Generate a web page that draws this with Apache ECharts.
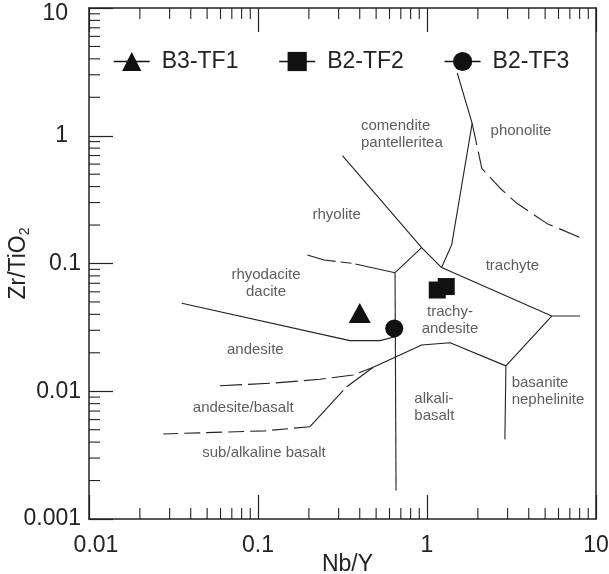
<!DOCTYPE html>
<html><head><meta charset="utf-8">
<script src="https://cdn.jsdelivr.net/npm/echarts@6/dist/echarts.min.js"></script>
<style>html,body{margin:0;padding:0;background:#fff}#c{width:609px;height:574px}</style>
</head><body><div id="c"></div>
<script>
// ---- axis ranges & tick labels ----
const X_MIN = 0.01, X_MAX = 10, Y_MIN = 0.001, Y_MAX = 10;
const xTickLabels = ['0.01', '0.1', '1', '10'];
const yTickLabels = ['0.001', '0.01', '0.1', '1', '10'];
const decadesX = [0.01, 0.1, 1];
const decadesY = [0.001, 0.01, 0.1, 1];
const minorMult = [2, 3, 4, 5, 6, 7, 8, 9];

// ---- samples ----
const sampleNames = ['B3-TF1', 'B2-TF2', 'B2-TF3'];
const b3tf1 = [[0.40, 0.041]];
const b2tf2 = [[1.15, 0.062], [1.30, 0.066]];
const b2tf3 = [[0.64, 0.031]];

// ---- field boundaries (Nb/Y, Zr/TiO2) ----
const lineA = [[0.316, 0.70], [0.93, 0.133], [1.22, 0.093]];
const lineB = [[1.22, 0.093], [1.40, 0.140], [1.85, 1.25], [1.51, 3.1]];
const lineC = [[1.85, 1.25], [2.11, 0.556], [2.70, 0.390], [3.40, 0.296], [5.11, 0.206], [8.23, 0.158]];
const lineD = [[0.196, 0.1165], [0.246, 0.1065], [0.366, 0.100], [0.647, 0.0847]];
const lineE = [[0.0354, 0.0488], [0.350, 0.0249], [0.527, 0.0249], [0.647, 0.0267]];
const lineF = [[0.647, 0.0847], [0.656, 0.00167]];
const lineG = [[0.647, 0.0847], [0.93, 0.133]];
const lineH = [[1.22, 0.093], [5.47, 0.0388], [8.04, 0.0388]];
const lineI = [[5.47, 0.0388], [2.93, 0.0158], [2.89, 0.0042]];
const lineJ = [[0.481, 0.0154], [0.93, 0.0230], [1.37, 0.0240], [2.93, 0.0158]];
const lineK = [[0.0596, 0.01105], [0.118, 0.01154], [0.233, 0.0124], [0.366, 0.01341], [0.481, 0.0154]];
const lineL1 = [[0.481, 0.0154], [0.335, 0.01085], [0.203, 0.00528]];
const lineL2 = [[0.203, 0.00528], [0.110, 0.00490], [0.0275, 0.00463]];

// ---- field names: [text, Nb/Y, Zr/TiO2, align] ----
const regionLabels = [
  ['comendite\npantelleritea', 0.407, 1.03, 'left'],
  ['phonolite', 3.60, 1.10, 'center'],
  ['rhyolite', 0.292, 0.240, 'center'],
  ['trachyte', 3.20, 0.096, 'center'],
  ['rhyodacite\ndacite', 0.1115, 0.0695, 'center'],
  ['andesite', 0.0964, 0.0210, 'center'],
  ['andesite/basalt', 0.0818, 0.00736, 'center'],
  ['sub/alkaline basalt', 0.1085, 0.0033, 'center'],
  ['trachy-\nandesite', 1.368, 0.0357, 'center'],
  ['alkali-\nbasalt', 0.841, 0.00749, 'left'],
  ['basanite\nnephelinite', 3.17, 0.00992, 'left']
];

const FONT = 'Liberation Sans, Arial, sans-serif';
const INK = '#222';
const MINOR_LEN = 11, MAJOR_LEN = 24;

const xMinor = [];
decadesX.forEach(d => minorMult.forEach(m => xMinor.push(+(d * m).toPrecision(3))));
const yMinor = [];
decadesY.forEach(d => minorMult.forEach(m => yMinor.push(+(d * m).toPrecision(3))));

const boundaries = [
  { d: lineA, t: 'solid' }, { d: lineB, t: 'solid' }, { d: lineC, t: [22, 7] },
  { d: lineD, t: [29, 5, 11, 4, 60] }, { d: lineE, t: 'solid' }, { d: lineF, t: 'solid' },
  { d: lineG, t: 'solid' }, { d: lineH, t: 'solid' }, { d: lineI, t: 'solid' },
  { d: lineJ, t: 'solid' }, { d: lineK, t: [22, 6] }, { d: lineL1, t: [33, 5, 90] },
  { d: lineL2, t: [16, 6] }
];

const series = [];
boundaries.forEach((b, i) => series.push({
  type: 'line', name: 'b' + i, data: b.d, symbol: 'none', silent: true, z: 2,
  lineStyle: { color: INK, width: 1.1, type: b.t }
}));

series.push({
  type: 'custom', name: 'xminor', z: 3, clip: false,
  data: xMinor.map(v => [v, Y_MIN]),
  renderItem: (params, api) => {
    const v = api.value(0);
    const b = api.coord([v, Y_MIN]);
    const t = api.coord([v, Y_MAX]);
    return { type: 'group', children: [
      { type: 'line', shape: { x1: b[0], y1: b[1], x2: b[0], y2: b[1] - MINOR_LEN }, style: { stroke: INK, lineWidth: 1.1 } },
      { type: 'line', shape: { x1: t[0], y1: t[1], x2: t[0], y2: t[1] + MINOR_LEN }, style: { stroke: INK, lineWidth: 1.1 } }
    ] };
  }
});
series.push({
  type: 'custom', name: 'yminor', z: 3, clip: false,
  data: yMinor.map(v => [X_MIN, v]),
  renderItem: (params, api) => {
    const v = api.value(1);
    const l = api.coord([X_MIN, v]);
    return { type: 'line', shape: { x1: l[0], y1: l[1], x2: l[0] + MINOR_LEN, y2: l[1] },
      style: { stroke: INK, lineWidth: 1.1 } };
  }
});

series.push({
  type: 'scatter', name: 'labels', silent: true, z: 4, symbolSize: 0,
  itemStyle: { color: 'rgba(0,0,0,0)' },
  data: regionLabels.map(r => ({
    value: [r[1], r[2]],
    label: { show: true, position: 'inside', formatter: r[0], align: r[3], verticalAlign: 'middle',
      fontSize: 15, lineHeight: 17, color: '#333', fontFamily: FONT }
  }))
});

const sampleStyle = { opacity: 0, width: 0 };
series.push({ type: 'line', name: sampleNames[0], data: b3tf1, symbol: 'triangle', symbolSize: [22, 20],
  showAllSymbol: true, itemStyle: { color: '#111' }, lineStyle: sampleStyle, z: 10 });
series.push({ type: 'line', name: sampleNames[1], data: b2tf2, symbol: 'rect', symbolSize: 17,
  showAllSymbol: true, itemStyle: { color: '#111' }, lineStyle: sampleStyle, z: 10 });
series.push({ type: 'line', name: sampleNames[2], data: b2tf3, symbol: 'circle', symbolSize: 18,
  showAllSymbol: true, itemStyle: { color: '#111' }, lineStyle: sampleStyle, z: 10 });

const mkLine = () => ({ show: true, lineStyle: { color: INK, width: 1.5 } });
const mkTick = () => ({ show: true, inside: true, length: MAJOR_LEN, lineStyle: { color: INK, width: 1.2 } });

const option = {
  animation: false,
  backgroundColor: '#fff',
  grid: { left: 89, right: 13, top: 8, bottom: 55, show: false, outerBoundsMode: 'none' },
  legend: {
    data: sampleNames, left: 113, top: 50, padding: 0, itemGap: 40,
    itemWidth: 36, itemHeight: 24, selectedMode: false,
    textStyle: { fontSize: 23, color: INK, fontFamily: FONT, padding: [0, 0, 0, 7] },
    lineStyle: { color: '#111', width: 1.5, opacity: 1, type: 'solid' }
  },
  xAxis: [
    {
      type: 'log', logBase: 10, min: X_MIN, max: X_MAX, position: 'bottom',
      axisLine: mkLine(), axisTick: mkTick(), splitLine: { show: false },
      axisLabel: {
        show: true, margin: 15, fontSize: 23, color: INK, fontFamily: FONT,
        showMinLabel: true, showMaxLabel: true, hideOverlap: false,
        formatter: v => {
          const i = Math.round(Math.log10(v)) + 2;
          const s = xTickLabels[i];
          return i === 0 ? '{s|' + s + '}' : s;
        },
        rich: { s: { fontSize: 23, color: INK, fontFamily: FONT, padding: [0, 0, 0, 14] } }
      },
      name: 'Nb/Y', nameLocation: 'middle', nameGap: 34, nameMoveOverlap: false,
      nameTextStyle: { fontSize: 23, color: INK, fontFamily: FONT, padding: [0, 0, 0, 10] }
    },
    {
      type: 'log', logBase: 10, min: X_MIN, max: X_MAX, position: 'top',
      axisLine: mkLine(), axisTick: mkTick(), axisLabel: { show: false }, splitLine: { show: false }
    }
  ],
  yAxis: [
    {
      type: 'log', logBase: 10, min: Y_MIN, max: Y_MAX, position: 'left',
      axisLine: mkLine(), axisTick: mkTick(), splitLine: { show: false },
      axisLabel: {
        show: true, margin: 8, fontSize: 23, color: INK, fontFamily: FONT,
        showMinLabel: true, showMaxLabel: true, hideOverlap: false,
        formatter: v => {
          const i = Math.round(Math.log10(v)) + 3;
          const s = yTickLabels[i];
          if (s === '10') return '{t|' + s + '}';
          if (s === '1') return '{w|' + s + '}';
          return s;
        },
        rich: {
          t: { fontSize: 23, color: INK, fontFamily: FONT, padding: [12, 13, 0, 0] },
          w: { fontSize: 23, color: INK, fontFamily: FONT, padding: [0, 13, 0, 0] }
        }
      },
      name: '{a|Zr/TiO}{b|2}', nameLocation: 'middle', nameRotate: 90, nameGap: 57, nameMoveOverlap: false,
      nameTextStyle: {
        rich: {
          a: { fontSize: 23, lineHeight: 26, color: INK, fontFamily: FONT },
          b: { fontSize: 14, lineHeight: 14, verticalAlign: 'bottom', color: INK, fontFamily: FONT }
        }
      }
    },
    {
      type: 'log', logBase: 10, min: Y_MIN, max: Y_MAX, position: 'right',
      axisLine: mkLine(), axisTick: { show: false }, axisLabel: { show: false }, splitLine: { show: false }
    }
  ],
  series
};

const chart = echarts.init(document.getElementById('c'), null, { renderer: 'canvas' });
chart.setOption(option);
</script>
</body></html>
